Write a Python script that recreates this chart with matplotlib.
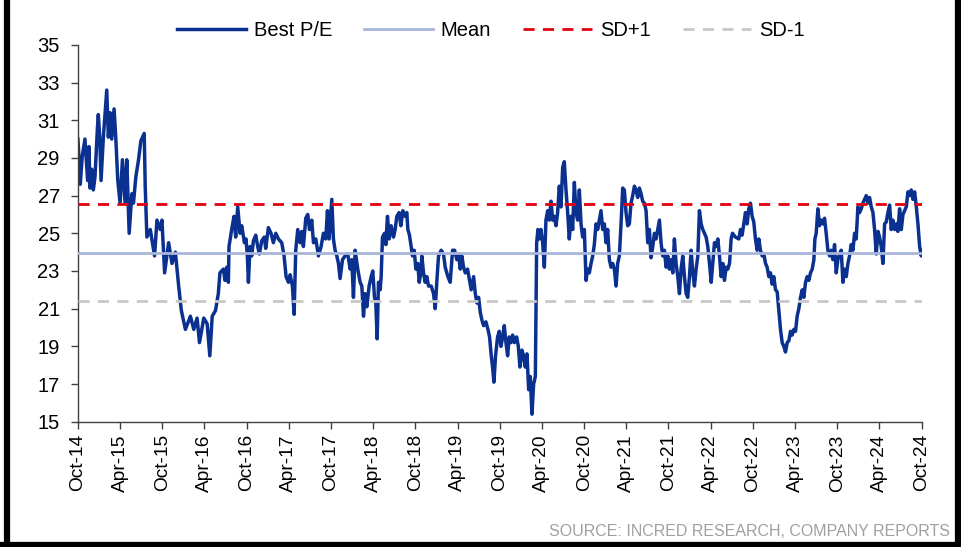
# Best P/E band chart: P/E line with mean and +/-1 SD bands

import numpy as np
import matplotlib
matplotlib.use('Agg')
import matplotlib.pyplot as plt
from matplotlib.lines import Line2D

plt.rcParams['font.family'] = ['Liberation Sans', 'DejaVu Sans']

# months since Oct-14, and the P/E value
months = [0.0, 0.19, 0.33, 0.62, 1.0, 1.38, 1.57, 1.71, 1.95, 2.19, 2.43, 2.76, 2.9, 3.1, 3.29, 3.62, 3.9, 4.1,
          4.33, 4.57, 4.81, 5.14, 5.38, 5.67, 6.0, 6.33, 6.71, 6.95, 7.29, 7.67, 7.9, 8.24, 8.62, 8.95, 9.43, 9.57,
          9.81, 10.29, 10.9, 11.24, 11.71, 11.95, 12.33, 12.9, 13.38, 13.86, 14.33, 14.71, 15.29, 16.0, 16.48, 16.95,
          17.29, 17.9, 18.38, 18.76, 19.1, 19.57,
          19.97, 20.2, 20.69, 20.92, 21.16, 21.4, 21.49, 21.87, 22.2, 22.44, 22.73, 23.06, 23.3, 23.68, 23.91, 24.1,
          24.25, 24.48, 24.72, 24.96, 25.29, 25.57, 25.81, 26.14, 26.52, 26.71, 27.09, 27.47, 27.8, 28.14, 28.52,
          28.99, 29.32, 29.61, 29.94, 30.18, 30.51, 30.75, 30.98, 31.27, 31.6, 31.84, 32.07, 32.41, 32.69, 32.93,
          33.26, 33.5, 33.83, 34.21, 34.59, 34.92, 35.25, 35.49, 35.73, 36.11, 36.34, 36.58, 36.82, 37.06, 37.29,
          37.63, 38.0, 38.38, 38.72, 38.95, 39.19, 39.43, 39.8,
          40.14, 40.38, 40.62, 40.85, 41.09, 41.42, 41.71, 41.94, 42.18, 42.37, 42.56, 42.75, 42.99, 43.13, 43.32,
          43.61, 43.8, 44.03, 44.27, 44.55, 44.89, 45.12, 45.36, 45.69, 45.93, 46.22, 46.55, 46.78, 46.93, 47.16,
          47.4, 47.59, 47.83, 48.07, 48.35, 48.54, 48.78, 48.92, 49.16, 49.39, 49.63, 49.87, 50.25, 50.58, 50.82,
          51.06, 51.29, 51.67, 52.0, 52.24, 52.62, 52.95, 53.29, 53.57, 53.9, 54.14, 54.38, 54.61, 54.85, 55.09,
          55.42, 55.71, 55.94, 56.28, 56.52, 56.75, 56.99, 57.23, 57.46, 57.7, 58.03, 58.32, 58.55, 58.79, 58.98,
          59.17,
          59.4, 59.69, 59.93, 60.17, 60.41, 60.64, 60.88, 61.12, 61.35, 61.59, 61.83, 62.07, 62.4, 62.64, 62.87,
          63.16, 63.39, 63.63, 63.87, 64.11, 64.34, 64.58, 64.82, 65.06, 65.25, 65.43, 65.62, 65.86, 66.1, 66.34,
          66.57, 66.81, 67.05, 67.29, 67.52, 67.76, 68.0, 68.23, 68.47, 68.71, 68.95, 69.18, 69.42, 69.66, 69.89,
          70.13, 70.37, 70.61, 70.84, 71.08, 71.32, 71.56, 71.79, 72.03, 72.27, 72.5, 72.74, 72.98, 73.22, 73.45,
          73.69, 73.93, 74.17, 74.4, 74.64, 74.88, 75.11, 75.35, 75.59, 75.83, 76.06, 76.3, 76.54, 76.77, 77.01,
          77.25, 77.49, 77.72, 77.96, 78.2, 78.43, 78.67, 78.91, 79.15, 79.38, 79.62, 79.86, 80.1, 80.33, 80.57,
          80.81, 81.05, 81.28, 81.52, 81.76, 82.0, 82.23, 82.47, 82.71, 82.94, 83.18, 83.42, 83.66, 83.89, 84.13,
          84.37, 84.61, 84.84, 85.08, 85.32, 85.56, 85.79, 86.03, 86.27, 86.51, 86.74, 86.98, 87.22, 87.46, 87.69,
          87.93, 88.17, 88.4, 88.64, 88.88, 89.12, 89.35, 89.59, 89.83, 90.07, 90.3, 90.54, 90.78, 91.02, 91.25,
          91.49, 91.73, 91.96, 92.2, 92.44, 92.68, 92.91, 93.1,
          93.52, 94.0, 94.24, 94.47, 94.71, 94.95, 95.19, 95.42, 95.66, 95.9, 96.13, 96.37, 96.61, 96.85, 97.08,
          97.32, 97.56, 97.8, 98.03, 98.27, 98.51, 98.74, 98.98, 99.22,
          99.46, 99.69, 99.93, 100.17, 100.41, 100.64, 100.88, 101.12, 101.36, 101.59, 101.83, 102.07, 102.3,
          102.54, 102.78, 103.02, 103.25, 103.49, 103.73, 103.96, 104.2, 104.44, 104.68, 104.82, 105.01, 105.25,
          105.48, 105.72, 105.96, 106.2, 106.43, 106.67, 106.91, 107.14, 107.38, 107.62, 107.86, 108.09, 108.33,
          108.57, 108.81, 109.04, 109.28, 109.52, 109.75, 109.99, 110.23, 110.47, 110.7, 110.94, 111.18, 111.41,
          111.65, 111.89, 112.13, 112.36, 112.6, 112.84, 113.08, 113.31, 113.55, 113.79, 114.02, 114.26, 114.5,
          114.74, 114.97, 115.21, 115.45, 115.68, 115.92, 116.16, 116.4, 116.63, 116.87, 117.11, 117.35, 117.58,
          117.82, 118.06, 118.3, 118.53, 118.77, 119.01, 119.25, 119.48, 119.72, 119.96, 120.0]

best_pe = [30.0, 28.7, 27.6, 29.1, 30.0, 27.8, 29.6, 27.4, 28.4, 27.3, 28.0, 30.5, 31.3, 30.1, 27.8, 30.1, 31.6, 32.6,
           30.1, 31.4, 30.0, 31.6, 30.1, 27.8, 26.6, 28.9, 26.6, 28.9, 25.0, 27.1, 26.6, 28.0, 28.9, 29.9, 30.3, 27.5,
           24.8, 25.2, 23.8, 25.7, 25.2, 25.7, 22.9, 24.5, 23.4, 24.0, 22.2, 20.9, 19.9, 20.6, 19.9, 20.5,
           19.2, 20.5, 20.2, 18.5, 20.6, 20.9,
           21.8, 22.9, 23.1, 22.5, 23.2, 22.4, 24.3, 25.2, 25.9, 24.8, 26.4, 25.0, 25.4, 24.5, 24.7, 23.8,
           22.4, 24.3, 23.8, 24.6, 24.9, 24.3, 23.9, 24.6, 24.8, 24.2, 25.3, 25.0, 24.5, 25.0, 24.7,
           24.5, 23.8, 22.7, 22.4, 22.8, 22.2, 20.7, 24.1, 25.2, 24.5, 25.1, 24.3, 25.8, 26.0, 25.2,
           25.7, 24.5, 24.7, 23.8, 24.3, 25.0, 24.7, 26.2, 24.7, 26.8, 24.7, 24.1, 23.8, 23.4, 22.6,
           23.6, 23.8, 23.9, 23.1, 23.6, 21.6, 24.1, 23.1,
           22.4, 22.2, 20.6, 21.8, 21.1, 22.2, 22.7, 23.0, 21.6, 21.3, 19.4, 22.4, 22.0, 22.7, 24.8,
           25.0, 24.4, 25.9, 24.7, 25.4, 24.8, 25.2, 25.9, 26.1, 25.4, 26.2, 25.9, 26.1, 25.2, 24.9,
           24.3, 23.8, 24.1, 23.1, 23.4, 22.4, 22.9, 23.8, 22.9, 22.4, 22.7, 22.2, 22.2, 21.8, 21.0,
           22.5, 23.8, 24.1, 23.9, 23.2, 22.7, 22.4, 24.1, 24.1, 23.6, 23.9, 23.1, 23.8, 23.2, 22.9,
           23.1, 22.5, 22.0, 22.7, 21.8, 21.3, 21.6, 20.8, 20.4, 20.1, 20.3, 19.9, 19.5, 18.5, 17.9,
           17.1,
           18.5, 19.5, 19.8, 19.0, 19.5, 20.1, 19.2, 18.5, 19.5, 19.2, 19.6, 19.2, 19.5, 19.0, 17.9,
           18.8, 18.5, 17.9, 18.6, 16.7, 17.4, 15.4, 17.0, 17.4, 24.5, 25.2, 24.7, 25.2, 24.5, 23.2,
           25.7, 26.2, 25.7, 26.7, 25.7, 25.9, 25.4, 26.1, 27.5, 26.4, 28.5, 28.8, 27.3, 26.1, 24.7,
           25.9, 25.2, 27.7, 26.1, 25.7, 27.3, 25.5, 24.8, 25.2, 22.5, 23.1, 22.9, 23.4, 23.8, 24.4,
           25.5, 25.2, 25.7, 26.2, 25.2, 25.5, 24.5, 25.2, 23.6, 23.2, 23.4, 23.1, 22.2, 23.4, 23.8,
           25.5, 27.4, 27.3, 26.1, 25.4, 25.5, 26.6, 27.0, 27.5, 27.3, 26.9, 27.4, 27.1, 26.7, 26.6,
           26.2, 24.5, 25.2, 23.7, 24.3, 25.0, 24.7, 25.2, 25.7, 24.5, 23.8, 24.1, 23.2, 23.8, 23.1,
           23.6, 22.9, 24.7, 23.4, 22.7, 21.8, 23.1, 23.8, 22.7, 21.8, 21.6, 22.7, 24.1, 22.9, 22.2,
           23.1, 23.8, 26.2, 25.5, 25.2, 25.0, 24.8, 24.3, 23.4, 22.4, 23.4, 24.5, 24.3, 24.7, 23.8,
           22.7, 23.4, 22.5, 23.2, 23.1, 23.4, 24.7, 25.0,
           24.8, 24.7, 25.2, 24.9, 25.5, 26.1, 25.5, 26.3, 26.6, 25.9, 25.6, 24.7, 24.1, 24.7, 24.1,
           23.8, 23.9, 23.4, 23.2, 22.7, 22.9, 22.3, 22.7, 22.0,
           21.9, 20.9, 19.9, 19.2, 19.0, 18.7, 19.2, 19.3, 19.8, 19.6, 19.9, 19.8, 20.6,
           21.0, 21.6, 22.0, 21.6, 22.4, 22.7, 22.5, 22.9, 23.1, 23.6, 24.7, 25.0, 26.3,
           25.4, 25.7, 25.5, 25.8, 25.0, 24.1, 23.8, 24.1, 23.6, 24.4, 22.9, 23.6, 23.9,
           24.1, 22.4, 23.1, 22.7, 23.4, 23.8, 24.4, 24.1, 25.0, 24.7, 26.4, 26.1, 26.3,
           26.6, 26.8, 27.0, 26.6, 26.9, 26.4, 26.1, 25.2, 23.9, 25.1, 24.8, 24.3, 23.4,
           25.5, 25.6, 26.1, 26.5, 25.2, 25.7, 25.2, 25.5, 25.1, 26.3, 25.2, 26.0, 26.2,
           26.4, 27.2, 27.0, 27.3, 26.8, 27.2, 26.4, 25.5, 24.3, 23.8, 24.1]

pe_mean = 23.97
pe_sd_plus = 26.56
pe_sd_minus = 21.40

tick_months = list(range(0, 121, 6))
tick_labels = ['Oct-14', 'Apr-15', 'Oct-15', 'Apr-16', 'Oct-16', 'Apr-17', 'Oct-17', 'Apr-18', 'Oct-18',
               'Apr-19', 'Oct-19', 'Apr-20', 'Oct-20', 'Apr-21', 'Oct-21', 'Apr-22', 'Oct-22', 'Apr-23',
               'Oct-23', 'Apr-24', 'Oct-24']

fig = plt.figure(figsize=(9.62, 5.47), dpi=100)
ax = fig.add_axes([0.081, 0.229, 0.877, 0.689])

ax.plot(months, best_pe, color='#0B3190', lw=2.5, label='Best P/E', zorder=2)
ax.axhline(pe_mean, color='#A9B6DA', lw=2.0, label='Mean', zorder=3)
ax.axhline(pe_sd_plus, color='#E3000F', lw=2.0, ls=(0, (4, 3)), label='SD+1', zorder=3)
ax.axhline(pe_sd_minus, color='#C8C8C8', lw=2.0, ls=(0, (4, 3)), label='SD-1', zorder=3)

ax.set_xlim(0, 120)
ax.set_ylim(15, 35)
ax.set_yticks(range(15, 36, 2))
ax.set_xticks(tick_months)
ax.set_xticklabels(tick_labels, rotation=90)

for side in ['top', 'right']:
    ax.spines[side].set_visible(False)
for side in ['left', 'bottom']:
    ax.spines[side].set_color('#404040')
    ax.spines[side].set_linewidth(1.0)
ax.tick_params(axis='y', direction='out', length=5, width=1, color='#404040', labelsize=14.5, pad=8)
ax.tick_params(axis='x', direction='out', length=5, width=1, color='#404040', labelsize=13.8, pad=4)

fig.legend(loc='center', bbox_to_anchor=(491 / 962, 1 - 31 / 547), ncol=4, frameon=False,
           fontsize=14.5, handlelength=3.4, handletextpad=0.4, columnspacing=1.6)

fig.text(950 / 962, 1 - 531 / 547, 'SOURCE: INCRED RESEARCH, COMPANY REPORTS', ha='right', va='center',
         fontsize=11.5, color='#A0A0A0')

# black frame on left, right and bottom of the exhibit
fig.add_artist(Line2D([7 / 962, 7 / 962], [0, 1], transform=fig.transFigure, color='black', lw=4.5))
fig.add_artist(Line2D([958.5 / 962, 958.5 / 962], [0, 1], transform=fig.transFigure, color='black', lw=4.5))
fig.add_artist(Line2D([0, 1], [2.5 / 547, 2.5 / 547], transform=fig.transFigure, color='black', lw=4.5))

fig.savefig('out.png', dpi=100)
